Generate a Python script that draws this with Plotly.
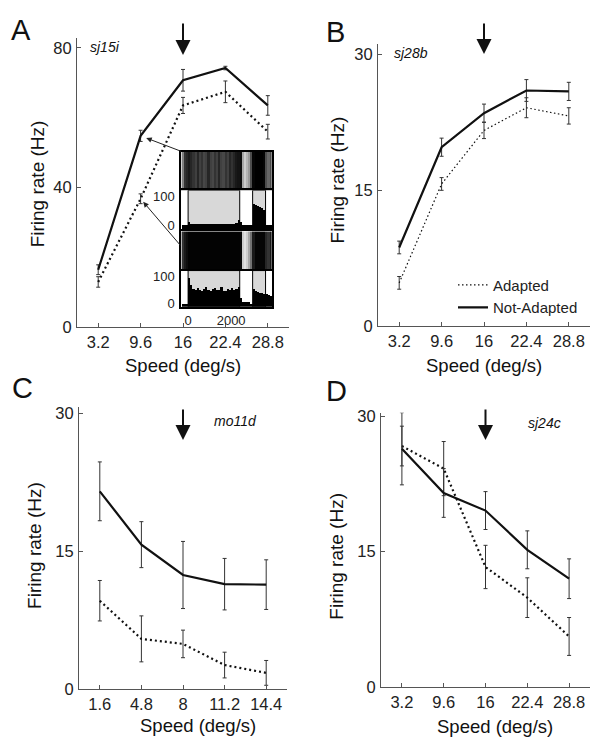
import plotly.graph_objects as go

W, H = 593, 745

# ---------------- data ----------------
speeds_fast = [3.2, 9.6, 16, 22.4, 28.8]
speeds_slow = [1.6, 4.8, 8, 11.2, 14.4]
fast_ticks = ["3.2", "9.6", "16", "22.4", "28.8"]
slow_ticks = ["1.6", "4.8", "8", "11.2", "14.4"]

# Panel A (sj15i)
a_not = [16.5, 54.8, 70.7, 74.2, 63.5]
a_not_err = [1.4, 1.6, 3.1, 0.5, 2.8]
a_adp = [13.0, 36.8, 63.5, 67.4, 56.0]
a_adp_err = [1.5, 1.4, 2.3, 3.1, 2.1]
# Panel B (sj28b)
b_not = [8.7, 19.75, 23.5, 26.0, 25.9]
b_not_err = [0.7, 1.0, 1.0, 1.2, 1.0]
b_adp = [4.8, 15.7, 21.6, 24.1, 23.2]
b_adp_err = [0.7, 0.7, 0.9, 1.1, 0.9]
# Panel C (mo11d)
c_not = [21.5, 15.7, 12.4, 11.4, 11.35]
c_not_err = [3.2, 2.5, 3.65, 2.8, 2.7]
c_adp = [9.6, 5.45, 4.9, 2.6, 1.75]
c_adp_err = [2.2, 2.5, 1.5, 1.4, 1.35]
# Panel D (sj24c)
d_not = [26.4, 21.5, 19.55, 15.2, 12.0]
d_not_err = [4.0, 2.7, 2.1, 2.1, 2.2]
d_adp = [26.7, 24.2, 13.3, 9.9, 5.6]
d_adp_err = [2.2, 3.0, 2.4, 2.2, 2.1]

# Inset (panel A): 100 ms bins, centres from -250 to 3850 ms
bin_centres = [-250 + 100 * i for i in range(42)]
raster_top = ([0.5, 0.8, 0.85] +
              [0.9, 0.85, 0.8, 0.75, 0.85, 0.75, 0.8, 0.72, 0.75, 0.85, 0.75, 0.72,
               0.8, 0.75, 0.85, 0.75, 0.72, 0.8, 0.75, 0.85, 0.8, 0.85, 0.9, 0.92] +
              [0.95, 0.35, 0.2, 0.3, 0.4, 0.7] +
              [0.98, 1, 1, 1, 1, 0.98] +
              [0.7, 0.6, 0.7])
raster_bot = ([0.8, 0.9, 0.95] +
              [0.99] * 24 +
              [0.97, 0.2, 0.12, 0.2, 0.35, 0.55] +
              [0.9, 0.98, 0.98, 0.98, 0.98, 0.98] +
              [0.85, 0.8, 0.9])
hist_top = ([0, 0, 0] +
            [10, 6, 4, 4, 3, 4, 5, 3, 4, 3, 5, 4, 3, 4, 3, 4, 3, 5, 4, 3, 4, 5, 8, 18] +
            [12, 0, 0, 0, 0, 0] +
            [72, 70, 66, 62, 58, 52] +
            [0, 0, 0])
hist_bot = ([0, 0, 0] +
            [95, 70, 55, 50, 58, 52, 48, 55, 60, 50, 45, 55, 58, 50, 52, 60, 48, 45,
             55, 50, 58, 52, 55, 60] +
            [20, 5, 5, 8, 5, 0] +
            [55, 45, 42, 40, 38, 35] +
            [35, 32, 30])
stim_periods = [(0, 2400), (3000, 3600)]
inset_xticks = [0, 2000]
hist_yticks = [0, 100]

# ---------------- helpers ----------------
FONT = "Liberation Sans, Arial, sans-serif"


def xd(a, b):
    return [a / W, b / W]


def yd(top, bottom):
    return [1 - bottom / H, 1 - top / H]


fig = go.Figure()

SOLID = dict(color="#111", width=2.2)
DOT = dict(color="#111", width=2.2, dash="2px,3px")
DOT_THIN = dict(color="#111", width=1.2, dash="1.5px,2.5px")


def err(a):
    return dict(type="data", array=a, visible=True, thickness=1, width=2, color="#333")


panels = [
    ("x", "y", speeds_fast, a_adp, a_adp_err, a_not, a_not_err, DOT, False),
    ("x2", "y2", speeds_fast, b_adp, b_adp_err, b_not, b_not_err, DOT_THIN, True),
    ("x3", "y3", speeds_slow, c_adp, c_adp_err, c_not, c_not_err, DOT, False),
    ("x4", "y4", speeds_fast, d_adp, d_adp_err, d_not, d_not_err, DOT, False),
]
for xa, ya, xs, adp, adpe, nt, nte, dl, leg in panels:
    fig.add_trace(go.Scatter(x=xs, y=adp, error_y=err(adpe), mode="lines", line=dl,
                             name="Adapted", showlegend=leg, xaxis=xa, yaxis=ya))
    fig.add_trace(go.Scatter(x=xs, y=nt, error_y=err(nte), mode="lines", line=SOLID,
                             name="Not-Adapted", showlegend=leg, xaxis=xa, yaxis=ya))

# inset traces
HBASE = -13
HTOP = 120
greys = [[0, "white"], [1, "black"]]
fig.add_trace(go.Heatmap(x=bin_centres, y=[0], z=[raster_top], colorscale=greys, zmin=0, zmax=1,
                         showscale=False, xaxis="x5", yaxis="y5"))
fig.add_trace(go.Bar(x=bin_centres, y=[v - HBASE for v in hist_top], base=HBASE, width=100,
                     marker=dict(color="black", line=dict(width=0)), showlegend=False,
                     xaxis="x6", yaxis="y6"))
fig.add_trace(go.Heatmap(x=bin_centres, y=[0], z=[raster_bot], colorscale=greys, zmin=0, zmax=1,
                         showscale=False, xaxis="x7", yaxis="y7"))
fig.add_trace(go.Bar(x=bin_centres, y=[v - HBASE for v in hist_bot], base=HBASE, width=100,
                     marker=dict(color="black", line=dict(width=0)), showlegend=False,
                     xaxis="x8", yaxis="y8"))

AX = dict(showline=True, linecolor="#555", linewidth=1.2, ticks="inside", ticklen=4,
          tickcolor="#555", showgrid=False, zeroline=False,
          tickfont=dict(size=16.5, color="#222", family=FONT))


def main_x(dom, rng, tv, tt, anchor):
    return dict(AX, domain=dom, range=rng, tickvals=tv, ticktext=tt, anchor=anchor,
                ticklabelstandoff=0)


def main_y(dom, rng, tv, anchor):
    return dict(AX, domain=dom, range=rng, tickvals=tv, anchor=anchor, ticklabelstandoff=1)


INS = dict(showline=True, mirror=True, linecolor="black", linewidth=1.5, showgrid=False,
           zeroline=False, ticks="", tickfont=dict(size=13, color="#222", family=FONT))
ins_x = xd(181, 272)
ins_rng = [-330, 3900]

layout = dict(
    width=W, height=H, margin=dict(l=0, r=0, t=0, b=0),
    paper_bgcolor="white", plot_bgcolor="white",
    font=dict(family=FONT, color="#222"),
    xaxis=main_x(xd(77, 289), [0, 32], speeds_fast, fast_ticks, "y"),
    yaxis=main_y(yd(33, 328), [0, 82.7], [0, 40, 80], "x"),
    xaxis2=main_x(xd(378, 590), [0, 32], speeds_fast, fast_ticks, "y2"),
    yaxis2=main_y(yd(39, 327), [0, 31.1], [0, 15, 30], "x2"),
    xaxis3=main_x(xd(79, 287), [0, 16], speeds_slow, slow_ticks, "y3"),
    yaxis3=main_y(yd(409, 697), [0, 30.7], [0, 15, 30], "x3"),
    xaxis4=main_x(xd(381, 590), [0, 32], speeds_fast, fast_ticks, "y4"),
    yaxis4=main_y(yd(415, 695), [0, 30.4], [0, 15, 30], "x4"),
    xaxis5=dict(INS, domain=ins_x, range=ins_rng, showticklabels=False, anchor="y5"),
    yaxis5=dict(INS, domain=yd(149, 188), range=[-0.5, 0.5], showticklabels=False, anchor="x5"),
    xaxis6=dict(INS, domain=ins_x, range=ins_rng, showticklabels=False, anchor="y6"),
    yaxis6=dict(INS, domain=yd(188, 228), range=[HBASE, HTOP], tickvals=hist_yticks,
                anchor="x6", ticklabelstandoff=2),
    xaxis7=dict(INS, domain=ins_x, range=ins_rng, showticklabels=False, anchor="y7"),
    yaxis7=dict(INS, domain=yd(230, 270), range=[-0.5, 0.5], showticklabels=False, anchor="x7"),
    xaxis8=dict(INS, domain=ins_x, range=ins_rng, tickvals=inset_xticks, anchor="y8",
                ticklabelstandoff=1),
    yaxis8=dict(INS, domain=yd(270, 307), range=[HBASE, HTOP], tickvals=hist_yticks,
                anchor="x8", ticklabelstandoff=2),
    legend=dict(x=453 / W, y=1 - 268 / H, xanchor="left", yanchor="top",
                bgcolor="rgba(0,0,0,0)", font=dict(size=15, color="#222", family=FONT),
                traceorder="normal", itemwidth=30, tracegroupgap=0),
    bargap=0,
)

shapes = []
for ya in ["y6", "y8"]:
    xa = "x" + ya[1:]
    for s0, s1 in stim_periods:
        shapes.append(dict(type="rect", xref=xa, yref=ya, x0=s0, x1=s1, y0=HBASE, y1=HTOP,
                           fillcolor="#d8d8d8", line=dict(color="black", width=1), layer="below"))
layout["shapes"] = shapes

ann = []


def txt(x, y, s, size, **kw):
    d = dict(x=x / W, y=1 - y / H, xref="paper", yref="paper", text=s, showarrow=False,
             font=dict(size=size, color="#111", family=FONT), xanchor="center", yanchor="middle")
    d.update(kw)
    ann.append(d)


# panel letters
txt(21, 25, "A", 29)
txt(335, 27, "B", 29)
txt(22.5, 390, "C", 29)
txt(336, 393, "D", 29)
# cell labels
txt(105, 42, "<i>sj15i</i>", 14)
txt(410.5, 48, "<i>sj28b</i>", 14)
txt(235.7, 423.7, "<i>mo11d</i>", 14)
txt(544.7, 426, "<i>sj24c</i>", 14)
# axis titles
for (x, y) in [(37, 182), (337, 178), (35, 551), (337, 562)]:
    txt(x, y, "Firing rate (Hz)", 19, textangle=-90)
for (x, y) in [(183, 367), (484, 367), (197.5, 734), (495, 735)]:
    txt(x, y, "Speed (deg/s)", 18.5)

# adaptation-speed arrows
for xa, xv, tip, length in [("x", 16, 50, 33), ("x2", 16, 49, 32), ("x3", 8, 443, 32), ("x4", 16, 443, 32)]:
    ann.append(dict(x=xv, y=1 - tip / H, xref=xa, yref="paper", text="", showarrow=True,
                    ax=0, ay=-length, arrowhead=2, arrowsize=1.5, arrowwidth=2,
                    arrowcolor="#111"))

# inset pointer arrows
ann.append(dict(x=9.6, y=a_not[1], xref="x", yref="y", text="", showarrow=True, ax=42, ay=16,
                arrowhead=2, arrowsize=1.1, arrowwidth=1, arrowcolor="#222", standoff=6))
ann.append(dict(x=9.6, y=a_adp[1], xref="x", yref="y", text="", showarrow=True, ax=41, ay=48,
                arrowhead=2, arrowsize=1.1, arrowwidth=1, arrowcolor="#222", standoff=4))
layout["annotations"] = ann

fig.update_layout(**layout)
fig.write_html("out.html")
